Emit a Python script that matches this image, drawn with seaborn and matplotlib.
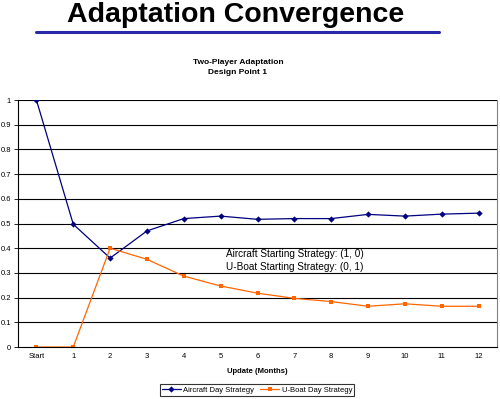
import matplotlib
matplotlib.use("Agg")
import matplotlib.pyplot as plt
from matplotlib.lines import Line2D
import seaborn as sns
import pandas as pd
import numpy as np

# chart data
months = ["Start", "1", "2", "3", "4", "5", "6", "7", "8", "9", "10", "11", "12"]
aircraft = [1.0, 0.497, 0.36, 0.47, 0.52, 0.53, 0.517, 0.52, 0.52, 0.537, 0.53, 0.538, 0.542]
uboat = [0.0, 0.0, 0.40, 0.355, 0.287, 0.247, 0.218, 0.197, 0.184, 0.165, 0.175, 0.165, 0.165]
y_ticks = [0, 0.1, 0.2, 0.3, 0.4, 0.5, 0.6, 0.7, 0.8, 0.9, 1]

sns.set_theme(style="white")
plt.rcParams['font.family'] = ['Liberation Sans', 'DejaVu Sans']
plt.rcParams['text.color'] = 'black'
plt.rcParams['axes.labelcolor'] = 'black'
plt.rcParams['xtick.color'] = 'black'
plt.rcParams['ytick.color'] = 'black'

df = pd.DataFrame({
    "pos": np.arange(len(months)),
    "Aircraft Day Strategy": aircraft,
    "U-Boat Day Strategy": uboat,
})

fig = plt.figure(figsize=(5.0, 3.99), dpi=100)
ax = fig.add_axes([0.036, 0.1303, 0.958, 0.6190])

# horizontal grid lines
for v in y_ticks[1:]:
    ax.axhline(v, color="black", lw=0.8, zorder=0)

sns.lineplot(data=df, x="pos", y="Aircraft Day Strategy", ax=ax, color="#000080",
             marker="D", markersize=3.2, markeredgewidth=0, lw=0.9,
             label="Aircraft Day Strategy")
sns.lineplot(data=df, x="pos", y="U-Boat Day Strategy", ax=ax, color="#FF6600",
             marker="s", markersize=3.2, markeredgewidth=0, lw=0.9,
             label="U-Boat Day Strategy")

ax.set_xlim(-0.5, len(months) - 0.5)
ax.set_ylim(0, 1)
ax.set_xticks(np.arange(len(months)))
ax.set_xticklabels(months, fontsize=5.5)
ax.set_xticks(np.arange(len(months) + 1) - 0.5, minor=True)
ax.tick_params(axis="x", which="major", length=0, pad=4)
ax.tick_params(axis="x", which="minor", length=3, width=0.6, color="black", direction="out")
ax.set_yticks(y_ticks)
ax.set_yticklabels([("%g" % v) for v in y_ticks], fontsize=5.5)
ax.tick_params(axis="y", length=3, width=0.6, color="black", direction="out", pad=2)
ax.tick_params(bottom=True, left=True)

for side in ["left", "bottom", "right", "top"]:
    ax.spines[side].set_color("black")
    ax.spines[side].set_linewidth(0.8)
ax.spines["top"].set_visible(False)
ax.spines["right"].set_color("#808080")

ax.set_xlabel("Update (Months)", fontsize=5.5, fontweight="bold", labelpad=6)
ax.set_ylabel("")

ax.text(5.15, 0.377, "Aircraft Starting Strategy: (1, 0)", fontsize=7.2, va="center", ha="left")
ax.text(5.15, 0.322, "U-Boat Starting Strategy: (0, 1)", fontsize=7.2, va="center", ha="left")

leg = ax.legend(loc="center", bbox_to_anchor=(0.514, 0.022), bbox_transform=fig.transFigure,
                ncol=2, fontsize=5.5, frameon=True, fancybox=False, borderpad=0.3,
                handlelength=2.5, columnspacing=0.8, handletextpad=0.3)
leg.get_frame().set_edgecolor("black")
leg.get_frame().set_linewidth(0.8)

# headings
fig.text(0.472, 1 - 22 / 399, "Adaptation Convergence", fontsize=20.5, fontweight="bold",
         ha="center", va="baseline")
fig.add_artist(Line2D([0.072, 0.878], [1 - 31.5 / 399, 1 - 31.5 / 399],
                      transform=fig.transFigure, color="#2828a8", lw=2.2))
fig.text(0.476, 1 - 62 / 399, "Two-Player Adaptation", fontsize=6, fontweight="bold",
         ha="center", va="center")
fig.text(0.476, 1 - 73 / 399, "Design Point 1", fontsize=6, fontweight="bold",
         ha="center", va="center")

fig.savefig("out.png", dpi=100)
